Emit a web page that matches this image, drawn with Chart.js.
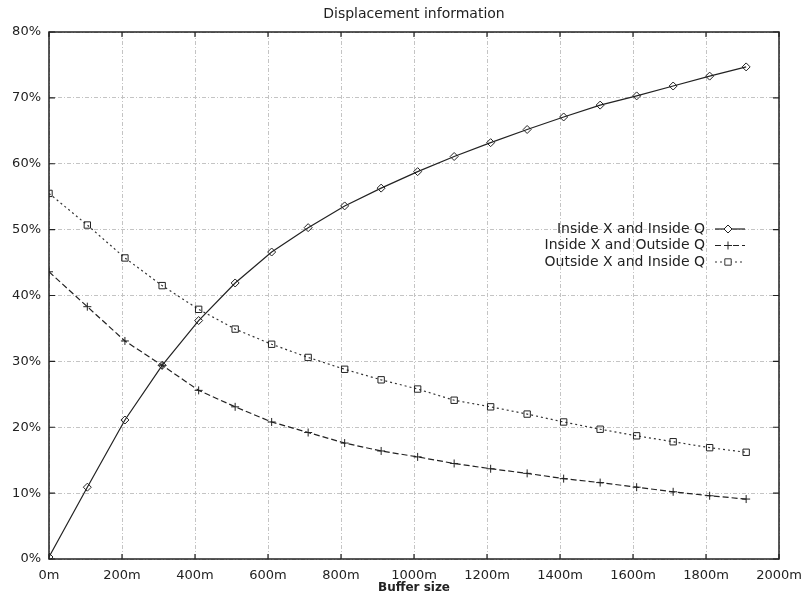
<!DOCTYPE html>
<html>
<head>
<meta charset="utf-8">
<script src="https://cdn.jsdelivr.net/npm/chart.js@4.4.0/dist/chart.umd.min.js"></script>
<style>
  body { margin: 0; background: #fff; }
</style>
</head>
<body>
<canvas id="chart" width="804" height="599"></canvas>
<script>
// buffer sizes (m)
var bufferSizes = [0, 105, 208, 310, 410, 510, 610, 710, 810, 910, 1010, 1110, 1210, 1310, 1410, 1510, 1610, 1710, 1810, 1910];

var insideXInsideQ = [0.3, 10.9, 21.1, 29.4, 36.2, 41.9, 46.6, 50.3, 53.6, 56.3, 58.8, 61.1, 63.2, 65.2, 67.1, 68.9, 70.3, 71.8, 73.3, 74.7];
var insideXOutsideQ = [43.6, 38.3, 33.1, 29.4, 25.6, 23.1, 20.8, 19.2, 17.6, 16.4, 15.5, 14.5, 13.7, 13.0, 12.2, 11.6, 10.9, 10.2, 9.6, 9.1];
var outsideXInsideQ = [55.5, 50.7, 45.7, 41.5, 37.9, 34.9, 32.6, 30.6, 28.8, 27.2, 25.8, 24.1, 23.1, 22.0, 20.8, 19.7, 18.7, 17.8, 16.9, 16.2];

var seriesLabels = ["Inside X and Inside Q", "Inside X and Outside Q", "Outside X and Inside Q"];

var chartTitle = "Displacement information";
var xTitle = "Buffer size";

var fontFamily = "'DejaVu Sans', Verdana, sans-serif";

function pts(ys) {
    return bufferSizes.map(function (x, i) { return {x: x, y: ys[i]}; });
}

// frame, inward ticks, titles and the legend, gnuplot style
var gnuplotDecor = {
    id: 'gnuplotDecor',
    afterDraw: function (chart) {
        var ctx = chart.ctx, a = chart.chartArea;
        var xs = chart.scales.x, ys = chart.scales.y;
        ctx.save();
        ctx.strokeStyle = '#222';
        ctx.lineWidth = 1.5;
        ctx.setLineDash([]);
        ctx.strokeRect(a.left, a.top, a.right - a.left, a.bottom - a.top);

        ctx.lineWidth = 1.2;
        ctx.beginPath();
        xs.ticks.forEach(function (t) {
            var px = xs.getPixelForValue(t.value);
            ctx.moveTo(px, a.bottom); ctx.lineTo(px, a.bottom - 5);
            ctx.moveTo(px, a.top); ctx.lineTo(px, a.top + 5);
        });
        ys.ticks.forEach(function (t) {
            var py = ys.getPixelForValue(t.value);
            ctx.moveTo(a.left, py); ctx.lineTo(a.left + 6, py);
            ctx.moveTo(a.right, py); ctx.lineTo(a.right - 6, py);
        });
        ctx.stroke();

        ctx.fillStyle = '#222';
        ctx.textAlign = 'center';
        ctx.textBaseline = 'middle';
        ctx.font = '14px ' + fontFamily;
        ctx.fillText(chartTitle, 414, 14);
        ctx.font = 'bold 12px ' + fontFamily;
        ctx.fillText(xTitle, 414, 588);

        // legend
        ctx.font = '14px ' + fontFamily;
        ctx.textAlign = 'right';
        chart.data.datasets.forEach(function (ds, i) {
            var y = 229 + i * 16.5;
            ctx.fillStyle = '#222';
            ctx.fillText(ds.label, 705, y);
            ctx.strokeStyle = ds.borderColor;
            ctx.lineWidth = ds.borderWidth;
            ctx.setLineDash(ds.borderDash || []);
            ctx.beginPath();
            ctx.moveTo(715, y); ctx.lineTo(745, y);
            ctx.stroke();
            ctx.setLineDash([]);
            ctx.fillStyle = '#fff';
            ctx.lineWidth = 1;
            Chart.helpers.drawPoint(ctx, {
                pointStyle: ds.pointStyle,
                radius: ds.pointRadius,
                borderWidth: 1,
                rotation: 0
            }, 728, y);
        });
        ctx.restore();
    }
};

new Chart(document.getElementById('chart'), {
    type: 'line',
    data: {
        datasets: [{
            label: seriesLabels[0],
            data: pts(insideXInsideQ),
            borderColor: '#222',
            borderWidth: 1.2,
            pointStyle: 'rectRot',
            pointRadius: 4,
            pointBorderColor: '#222',
            pointBackgroundColor: 'rgba(0,0,0,0)',
            pointBorderWidth: 1
        }, {
            label: seriesLabels[1],
            data: pts(insideXOutsideQ),
            borderColor: '#222',
            borderWidth: 1.2,
            borderDash: [6, 3],
            pointStyle: 'cross',
            pointRadius: 4,
            pointBorderColor: '#222',
            pointBorderWidth: 1
        }, {
            label: seriesLabels[2],
            data: pts(outsideXInsideQ),
            borderColor: '#333',
            borderWidth: 1.2,
            borderDash: [2, 3],
            pointStyle: 'rect',
            pointRadius: 4.5,
            pointBorderColor: '#222',
            pointBackgroundColor: 'rgba(0,0,0,0)',
            pointBorderWidth: 1
        }]
    },
    options: {
        responsive: false,
        animation: false,
        layout: {
            padding: {top: 32, right: 25, left: 0, bottom: 0}
        },
        plugins: {
            legend: { display: false },
            title: { display: false },
            tooltip: { enabled: false }
        },
        scales: {
            x: {
                type: 'linear',
                min: 0,
                max: 2000,
                grid: { color: '#c4c4c4', lineWidth: 1, drawTicks: false },
                border: { display: false, dash: [4, 2, 1, 2] },
                ticks: {
                    stepSize: 200,
                    padding: 9,
                    color: '#222',
                    font: { family: fontFamily, size: 13 },
                    maxRotation: 0,
                    callback: function (v) { return v + 'm'; }
                },
                afterFit: function (scale) {
                    scale.height = 40;
                    scale.paddingLeft = 0;
                    scale.paddingRight = 0;
                }
            },
            y: {
                min: 0,
                max: 80,
                grid: { color: '#c4c4c4', lineWidth: 1, drawTicks: false },
                border: { display: false, dash: [4, 2, 1, 2] },
                ticks: {
                    stepSize: 10,
                    padding: 8,
                    color: '#222',
                    font: { family: fontFamily, size: 13 },
                    callback: function (v) { return v + '%'; }
                },
                afterFit: function (scale) {
                    scale.width = 49;
                    scale.paddingTop = 0;
                    scale.paddingBottom = 0;
                }
            }
        }
    },
    plugins: [gnuplotDecor]
});
</script>
</body>
</html>
